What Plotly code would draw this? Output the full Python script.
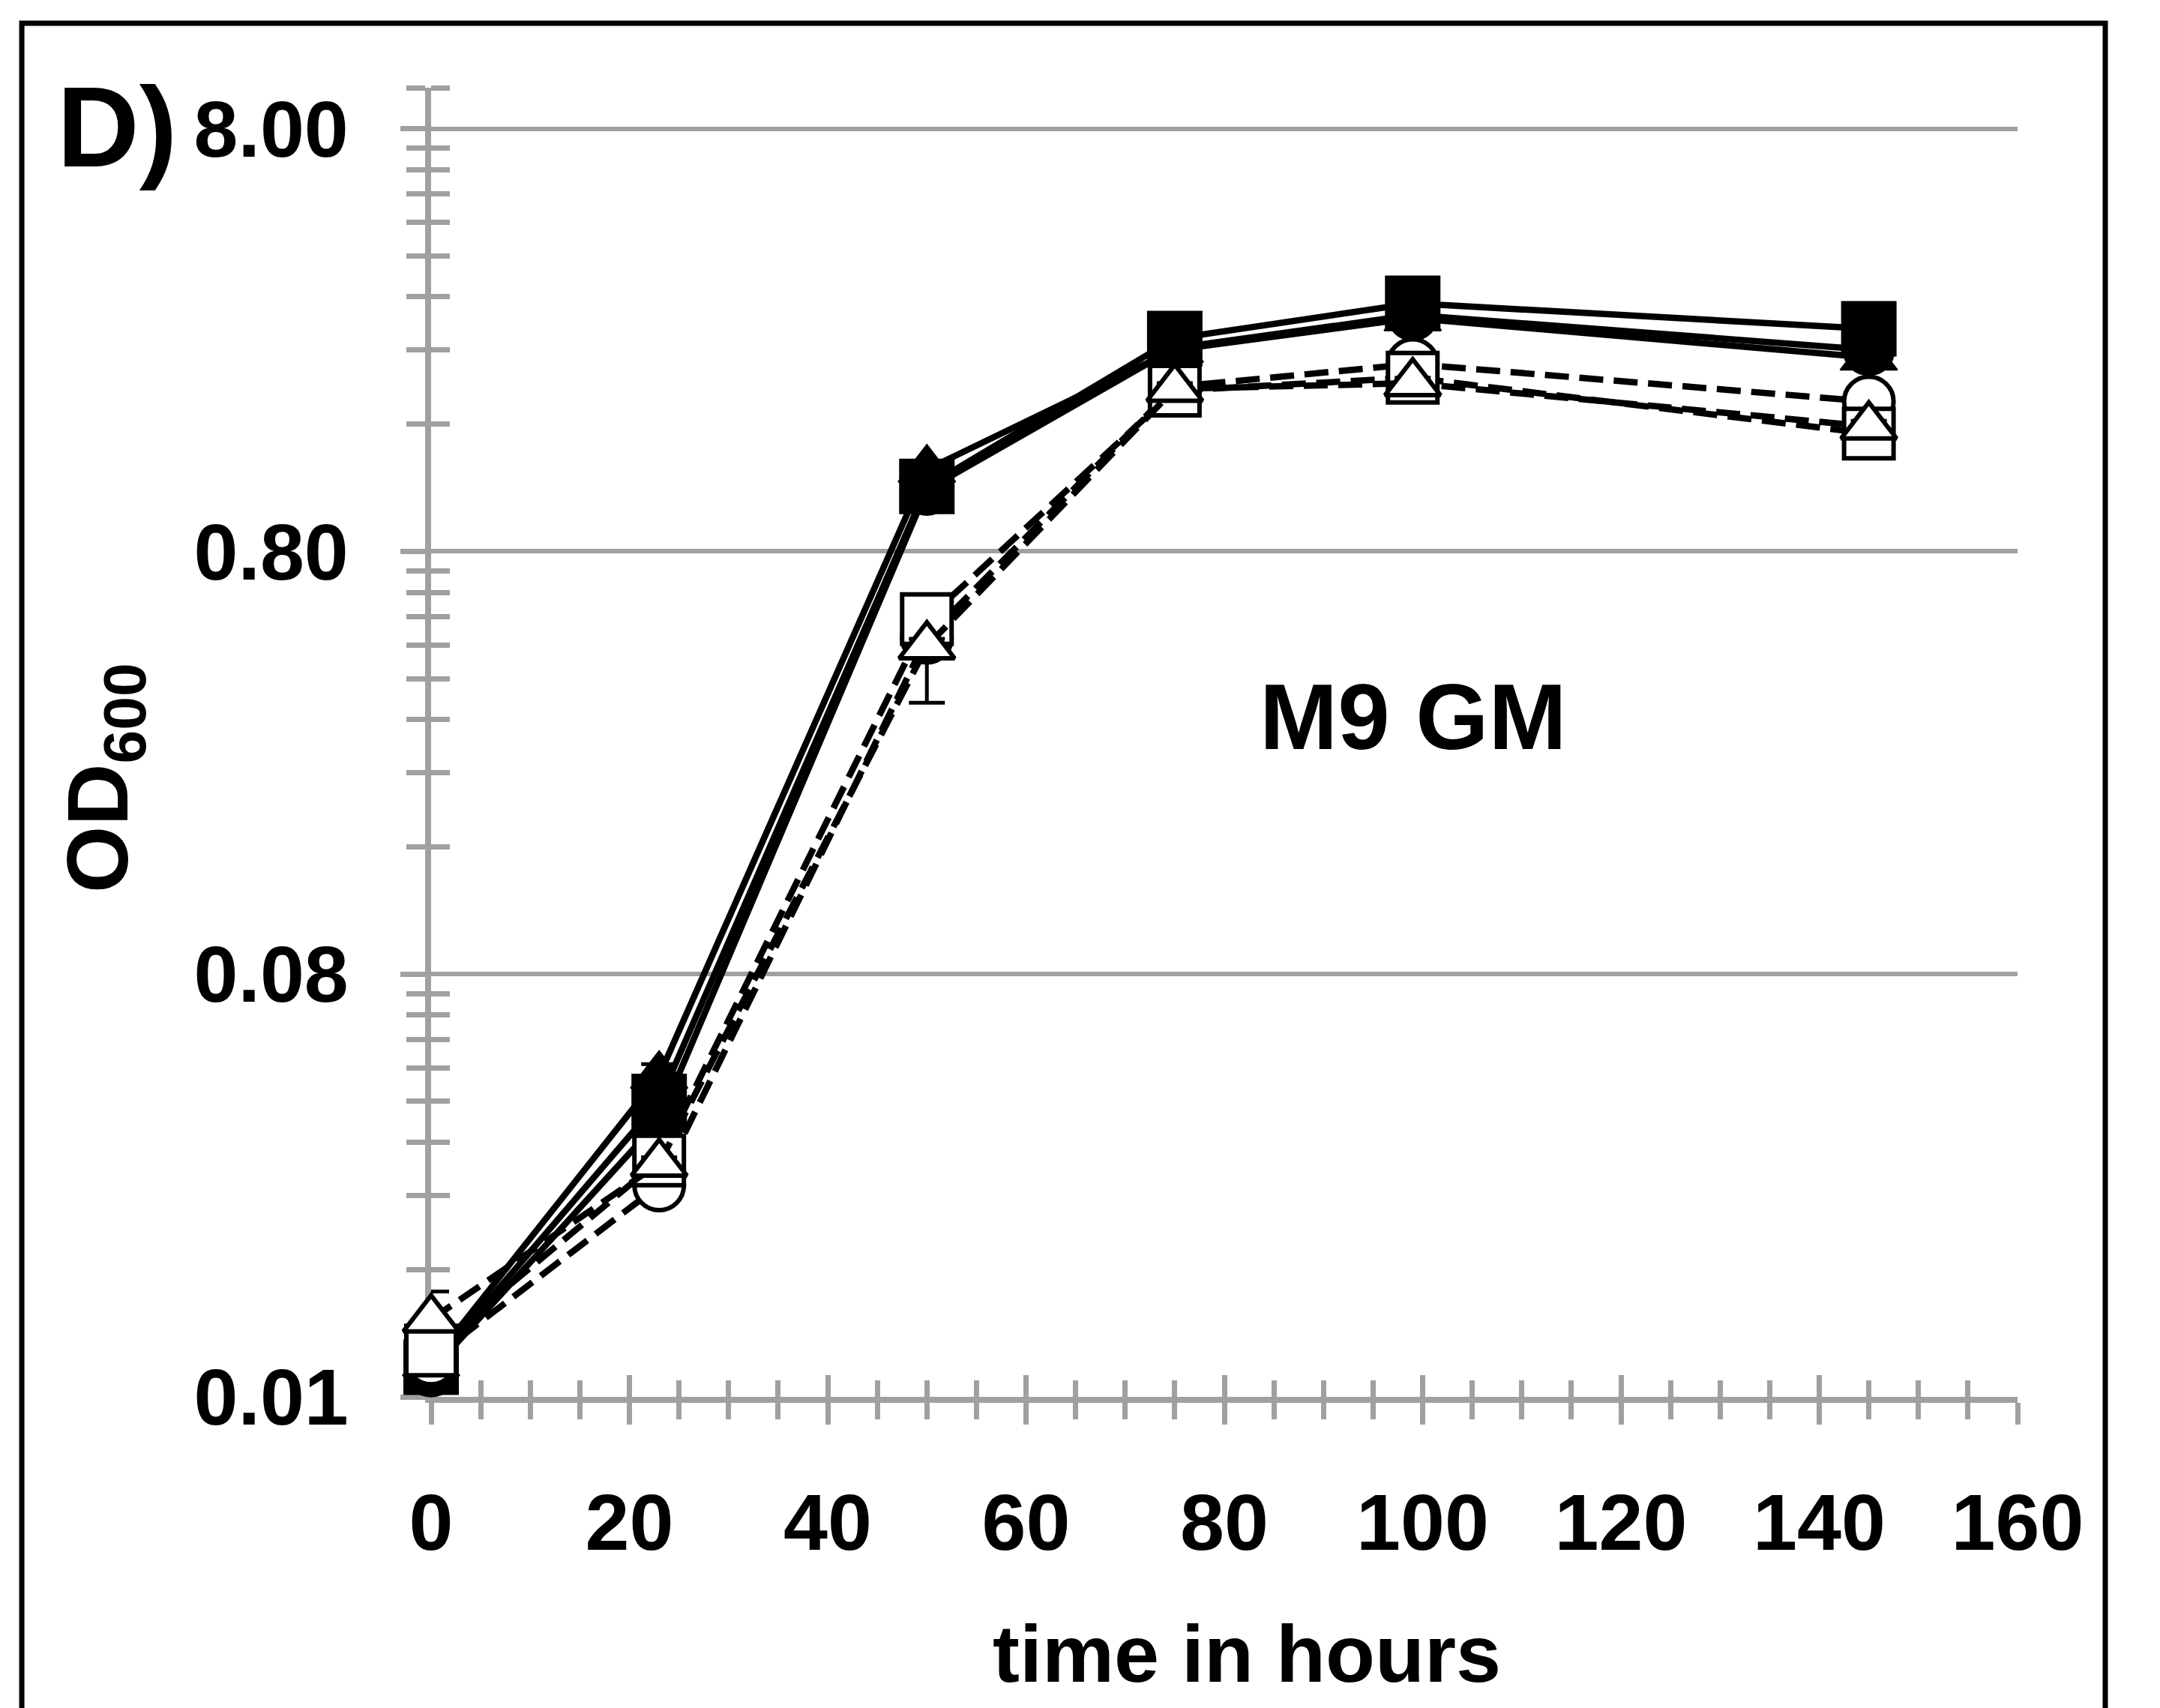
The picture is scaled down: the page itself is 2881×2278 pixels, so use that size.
import math
import plotly.graph_objects as go

# ---------------- data ----------------
time_h = [0, 23, 50, 75, 99, 145]

# solid lines, filled markers
filled_square = [0.0094, 0.040, 1.14, 2.55, 3.09, 2.69]
filled_triangle = [0.0096, 0.046, 1.25, 2.40, 2.85, 2.30]
filled_circle = [0.0092, 0.036, 1.12, 2.42, 2.90, 2.40]
# dashed lines, open markers
open_square = [0.0103, 0.029, 0.553, 1.92, 2.06, 1.52]
open_triangle = [0.0122, 0.0285, 0.477, 1.94, 2.00, 1.58]
open_circle = [0.0098, 0.0253, 0.50, 1.96, 2.22, 1.81]

# error bars (upper / lower), most are hidden behind the markers
err_up_filled_square = [0.0004, 0.003, 0.05, 0.08, 0.10, 0.08]
err_dn_filled_square = [0.0004, 0.003, 0.05, 0.08, 0.10, 0.08]
err_up_filled_triangle = [0.0004, 0.003, 0.05, 0.08, 0.10, 0.08]
err_dn_filled_triangle = [0.0004, 0.003, 0.05, 0.08, 0.10, 0.08]
err_up_filled_circle = [0.0004, 0.002, 0.05, 0.08, 0.10, 0.08]
err_dn_filled_circle = [0.0004, 0.002, 0.05, 0.08, 0.10, 0.08]
err_up_open_square = [0.0004, 0.001, 0.03, 0.06, 0.06, 0.05]
err_dn_open_square = [0.0004, 0.001, 0.03, 0.06, 0.06, 0.05]
err_up_open_triangle = [0.0020, 0.001, 0.02, 0.06, 0.06, 0.05]
err_dn_open_triangle = [0.0005, 0.001, 0.126, 0.06, 0.06, 0.05]
err_up_open_circle = [0.0004, 0.001, 0.03, 0.06, 0.06, 0.05]
err_dn_open_circle = [0.0004, 0.001, 0.03, 0.06, 0.06, 0.05]

x_major = [0, 20, 40, 60, 80, 100, 120, 140, 160]
x_labels = ["0", "20", "40", "60", "80", "100", "120", "140", "160"]
y_major = [0.008, 0.08, 0.8, 8]
y_labels = ["0.01", "0.08", "0.80", "8.00"]
y_minor = [k * d for d in (0.008, 0.08, 0.8) for k in range(2, 10)] + [10]

panel_label = "D)"
medium_label = "M9 GM"
x_title = "time in hours"
y_title = "OD<sub>600</sub>"

# ---------------- styling ----------------
GRAY = "#a0a0a0"
FONT = "Liberation Sans, Arial, Helvetica, sans-serif"
Y_RANGE = [math.log10(0.008), 1.0]
X_RANGE = [0, 160]
DASH = "32px,14px"

fig = go.Figure()

series = [
    ("filled circle", filled_circle, err_up_filled_circle, err_dn_filled_circle, "circle", 68, "black", "solid"),
    ("filled triangle", filled_triangle, err_up_filled_triangle, err_dn_filled_triangle, "triangle-up", 66, "black", "solid"),
    ("filled square", filled_square, err_up_filled_square, err_dn_filled_square, "square", 72, "black", "solid"),
    ("open circle", open_circle, err_up_open_circle, err_dn_open_circle, "circle", 66, "white", DASH),
    ("open square", open_square, err_up_open_square, err_dn_open_square, "square", 66, "white", DASH),
    ("open triangle", open_triangle, err_up_open_triangle, err_dn_open_triangle, "triangle-up", 64, "white", DASH),
]

for name, vals, eup, edn, sym, size, fill, dash in series:
    fig.add_trace(go.Scatter(
        x=time_h, y=vals, name=name, mode="lines+markers",
        line=dict(color="black", width=8.5, dash=dash),
        marker=dict(symbol=sym, size=size, color=fill,
                    line=dict(color="black", width=6 if fill == "white" else 2)),
        error_y=dict(type="data", symmetric=False, array=eup, arrayminus=edn,
                     visible=True, color="black", thickness=5, width=24),
        cliponaxis=False, showlegend=False,
    ))

# dummy trace for the overlay axes (inside half of the crossing ticks)
fig.add_trace(go.Scatter(x=[None], y=[None], xaxis="x2", yaxis="y2",
                         showlegend=False, hoverinfo="skip"))

tickfont = dict(family=FONT, size=106, color="black", weight="bold")

fig.update_layout(
    width=2881, height=2278, autosize=False,
    margin=dict(l=575, r=190, t=117, b=415, pad=0),
    paper_bgcolor="white", plot_bgcolor="white",
    showlegend=False,
    font=dict(family=FONT, color="black"),
    xaxis=dict(
        range=X_RANGE, tickmode="array", tickvals=x_major, ticktext=x_labels,
        ticks="outside", ticklen=29, tickwidth=7, tickcolor=GRAY,
        showline=True, linecolor=GRAY, linewidth=8,
        showgrid=False, zeroline=False, tickfont=tickfont,
        ticklabelstandoff=40, layer="below traces",
        minor=dict(dtick=5, tick0=0, ticks="outside", ticklen=22,
                   tickwidth=7, tickcolor=GRAY, showgrid=False),
    ),
    yaxis=dict(
        type="log", range=Y_RANGE, tickmode="array", tickvals=y_major,
        ticktext=y_labels, ticks="outside", ticklen=33, tickwidth=7,
        tickcolor=GRAY, showline=True, linecolor=GRAY, linewidth=8,
        showgrid=True, gridcolor=GRAY, gridwidth=6, zeroline=False,
        tickfont=tickfont, ticklabelstandoff=48, layer="below traces",
        minor=dict(tickmode="array", tickvals=y_minor, ticks="outside",
                   ticklen=25, tickwidth=7, tickcolor=GRAY, showgrid=False),
    ),
    xaxis2=dict(
        overlaying="x", anchor="y2", side="bottom", range=X_RANGE,
        tickmode="array", tickvals=x_major, ticks="inside", ticklen=29,
        tickwidth=7, tickcolor=GRAY, showticklabels=False, showline=False,
        showgrid=False, zeroline=False, layer="below traces",
        minor=dict(dtick=5, tick0=0, ticks="inside", ticklen=22,
                   tickwidth=7, tickcolor=GRAY, showgrid=False),
    ),
    yaxis2=dict(
        overlaying="y", anchor="x2", side="left", type="log", range=Y_RANGE,
        tickmode="array", tickvals=y_major, ticks="", showticklabels=False,
        showline=False, showgrid=False, zeroline=False, layer="below traces",
        minor=dict(tickmode="array", tickvals=y_minor, ticks="inside",
                   ticklen=25, tickwidth=7, tickcolor=GRAY, showgrid=False),
    ),
)

# outer frame of the panel
fig.add_shape(type="rect", xref="paper", yref="paper",
              x0=-0.258, x1=1.0553, y0=-0.35, y1=1.0493,
              line=dict(color="black", width=7), fillcolor="rgba(0,0,0,0)",
              layer="above")

# text
fig.add_annotation(text=panel_label, xref="paper", yref="paper",
                   x=-0.2368, y=0.970, xanchor="left", yanchor="middle",
                   showarrow=False,
                   font=dict(family=FONT, size=152, color="black", weight="bold"))
fig.add_annotation(text=medium_label, xref="paper", yref="paper",
                   x=0.619, y=0.520, xanchor="center", yanchor="middle",
                   showarrow=False,
                   font=dict(family=FONT, size=125, color="black", weight="bold"))
fig.add_annotation(text=x_title, xref="paper", yref="paper",
                   x=0.514, y=-0.196, xanchor="center", yanchor="middle",
                   showarrow=False,
                   font=dict(family=FONT, size=108, color="black", weight="bold"))
fig.add_annotation(text=y_title, xref="paper", yref="paper",
                   x=-0.2065, y=0.4725, xanchor="center", yanchor="middle",
                   textangle=-90, showarrow=False,
                   font=dict(family=FONT, size=115, color="black", weight="bold"))

fig.write_html("out.html")
